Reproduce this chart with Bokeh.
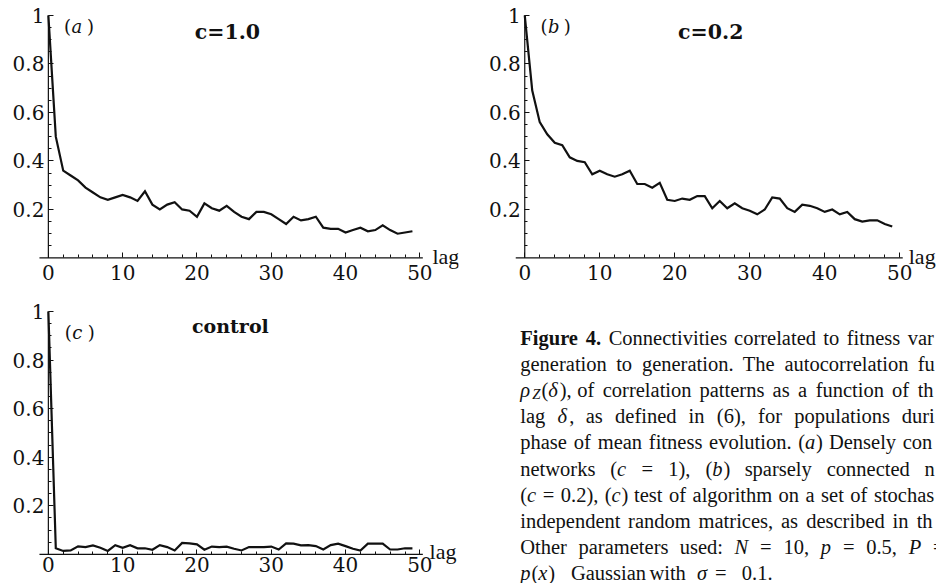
from bokeh.plotting import figure
from bokeh.models import Range1d, FixedTicker, Label, ColumnDataSource, CustomJSTickFormatter
from bokeh.layouts import row, column
from bokeh.embed import file_html
from bokeh.resources import INLINE
from bokeh.core.properties import value

# ---------------- data ----------------
lag = list(range(50))
acf_c10 = [1.0, .50, .36, .34, .32, .29, .27, .25, .24, .25,
           .26, .25, .235, .275, .22, .20, .22, .23, .20, .195,
           .17, .225, .205, .195, .215, .19, .17, .16, .19, .19,
           .18, .16, .14, .17, .155, .16, .17, .125, .12, .12,
           .105, .115, .125, .11, .115, .135, .115, .10, .105, .11]
acf_c02 = [1.0, .69, .56, .51, .475, .465, .415, .40, .395, .345,
           .36, .345, .335, .345, .36, .305, .305, .29, .31, .24,
           .235, .245, .24, .255, .255, .205, .235, .205, .225, .205,
           .195, .18, .20, .25, .245, .205, .19, .22, .215, .205,
           .19, .20, .18, .19, .16, .15, .155, .155, .14, .13]
acf_control = [1.0, .025, .014, .016, .033, .03, .037, .027, .014, .038,
               .027, .038, .025, .025, .019, .038, .03, .016, .047, .045,
               .041, .019, .032, .03, .032, .023, .016, .03, .03, .03,
               .032, .02, .045, .044, .037, .038, .034, .02, .038, .044,
               .034, .023, .016, .044, .044, .044, .02, .02, .025, .025]

panel_titles = ["c=1.0", "c=0.2", "control"]
panel_letters = ["a", "b", "c"]
x_label = "lag"
x_ticks = [0, 10, 20, 30, 40, 50]
x_tick_labels = ["0", "10", "20", "30", "40", "50"]
y_ticks = [0.2, 0.4, 0.6, 0.8, 1.0]
y_tick_labels = ["0.2", "0.4", "0.6", "0.8", "1"]
x_axis_extent = (-1.2, 50.4)   # drawn length of the lag axis
y_axis_extent = (0.0, 1.0)

INK = "#111111"
PLOT_FONT = "DejaVu Serif"
CAP_FONT = "Liberation Serif"
CAP_SIZE = 20.5


def tick_formatter(tv, tl):
    return CustomJSTickFormatter(
        args=dict(tv=tv, tl=tl),
        code="const i = tv.findIndex(t => Math.abs(t - tick) < 1e-9);"
             "return i >= 0 ? tl[i] : '';")


def panel(ys, title, letter, w, h, bl, br, bt, bb, x_end, y_start, x_standoff,
          title_xy, letter_xy, lag_xy, title_size):
    p = figure(width=w, height=h, x_range=Range1d(-5.5, x_end), y_range=Range1d(y_start, 1.045),
               output_backend="svg", toolbar_location=None,
               min_border_left=bl, min_border_right=br,
               min_border_top=bt, min_border_bottom=bb)
    p.outline_line_color = None
    p.grid.visible = False
    p.background_fill_color = "white"
    p.border_fill_color = "white"

    # axis lines crossing at the origin (Mathematica style)
    p.segment(x0=[x_axis_extent[0], 0], y0=[0, y_axis_extent[0]],
              x1=[x_axis_extent[1], 0], y1=[0, y_axis_extent[1]],
              line_color=INK, line_width=1.2)

    p.line(lag, ys, line_width=2.2, line_color=INK, line_join="miter")

    x_minor = [v for v in range(0, 51, 2) if v % 10]
    y_minor = [round(0.05 * k, 2) for k in range(1, 21) if k % 4]
    p.xaxis.ticker = FixedTicker(ticks=x_ticks, minor_ticks=x_minor)
    p.yaxis.ticker = FixedTicker(ticks=y_ticks, minor_ticks=y_minor)
    p.xaxis.formatter = tick_formatter(x_ticks, x_tick_labels)
    p.yaxis.formatter = tick_formatter(y_ticks, y_tick_labels)
    p.xaxis.fixed_location = 0
    p.yaxis.fixed_location = 0
    for ax in (p.xaxis[0], p.yaxis[0]):
        ax.axis_line_color = None
        ax.major_tick_line_color = INK
        ax.minor_tick_line_color = INK
        ax.major_tick_in = 5
        ax.major_tick_out = 0
        ax.minor_tick_in = 3
        ax.minor_tick_out = 0
        ax.major_label_text_font = PLOT_FONT
        ax.major_label_text_font_size = "20px"
        ax.major_label_text_color = INK
    p.yaxis.major_label_standoff = 4
    p.xaxis.major_label_standoff = x_standoff

    p.add_layout(Label(x=title_xy[0], y=title_xy[1], text=title, text_align="center",
                       text_baseline="alphabetic", text_font=PLOT_FONT,
                       text_font_style="bold", text_font_size=title_size, text_color=INK))
    lx, ly = letter_xy
    p.add_layout(Label(x=lx, y=ly, text="(", text_baseline="alphabetic",
                       text_font=PLOT_FONT, text_font_size="18px", text_color=INK))
    p.add_layout(Label(x=lx + 1.0, y=ly, text=letter, text_baseline="alphabetic",
                       text_font=PLOT_FONT, text_font_style="italic",
                       text_font_size="18px", text_color=INK))
    p.add_layout(Label(x=lx + 3.1, y=ly, text=")", text_baseline="alphabetic",
                       text_font=PLOT_FONT, text_font_size="18px", text_color=INK))
    p.add_layout(Label(x=lag_xy[0], y=lag_xy[1], text=x_label, text_baseline="alphabetic",
                       text_font=CAP_FONT, text_font_size="22px", text_color=INK))
    return p


pa = panel(acf_c10, panel_titles[0], panel_letters[0], 480, 291, 3, 22, 4, 2, 55.2, -0.13, 7,
           (24.1, 0.93), (2.1, 0.956), (51.7, 0.008), "20.5px")
pb = panel(acf_c02, panel_titles[1], panel_letters[1], 456, 291, 3, 0, 4, 2, 54.9, -0.13, 7,
           (24.8, 0.93), (2.1, 0.956), (51.2, 0.008), "20.5px")
pc = panel(acf_control, panel_titles[2], panel_letters[2], 480, 292, 7, 18, 9, 0, 55.2, -0.12, 3,
           (24.5, 0.94), (2.2, 0.912), (51.3, 0.012), "19px")

# ---------------- caption (justified, cut at the right edge as in the source page) ----------------
# Times / Liberation Serif advance widths (1/1000 em)
W_R = {' ': 250, 'a': 444, 'b': 500, 'c': 444, 'd': 500, 'e': 444, 'f': 333, 'g': 500, 'h': 500,
       'i': 278, 'j': 278, 'k': 500, 'l': 278, 'm': 778, 'n': 500, 'o': 500, 'p': 500, 'q': 500,
       'r': 333, 's': 389, 't': 278, 'u': 500, 'v': 500, 'w': 722, 'x': 500, 'y': 500, 'z': 444,
       'C': 667, 'D': 722, 'F': 556, 'G': 722, 'N': 722, 'O': 722, 'P': 556, 'T': 611, 'Z': 611,
       '.': 250, ',': 250, ':': 278, '(': 333, ')': 333, '=': 564}
W_R.update({d: 500 for d in "0123456789"})
W_I = {'a': 500, 'b': 500, 'c': 444, 'p': 500, 'x': 444, 'N': 667, 'P': 611, 'Z': 556,
       '\u03c1': 540, '\u03b4': 520, '\u03c3': 560}
W_B = {'F': 611, 'i': 278, 'g': 500, 'u': 556, 'r': 444, 'e': 444, '4': 500, '.': 250}


def pw(text, style):
    table = {"normal": W_R, "italic": W_I, "bold": W_B, "sub": W_I}[style]
    scale = 0.72 if style == "sub" else 1.0
    return sum(table.get(ch, W_R.get(ch, 500)) for ch in text) / 1000.0 * CAP_SIZE * scale


def R(t):
    return [(t, "normal")]


def It(t):
    return [(t, "italic")]


caption_lines = [
    ([[("Figure", "bold")], [("4.", "bold")], R("Connectivities"), R("correlated"), R("to"),
      R("fitness"), R("var")], 907),
    ([R("generation"), R("to"), R("generation."), R("The"), R("autocorrelation"), R("fu")], 917),
    ([[("\u03c1", "italic"), ("Z", "sub"), ("(", "normal"), ("\u03b4", "italic"), ("),", "normal")],
      R("of"), R("correlation"), R("patterns"), R("as"), R("a"), R("function"), R("of"), R("th")], 917),
    ([R("lag"), [("\u03b4", "italic"), (",", "normal")], R("as"), R("defined"), R("in"), R("(6),"),
      R("for"), R("populations"), R("duri")], 901),
    ([R("phase"), R("of"), R("mean"), R("fitness"), R("evolution."),
      [("(", "normal"), ("a", "italic"), (")", "normal")], R("Densely"), R("con")], 902),
    ([R("networks"), [("(", "normal"), ("c", "italic")], R("="), R("1),"),
      [("(", "normal"), ("b", "italic"), (")", "normal")], R("sparsely"), R("connected"), R("n")], 924),
    ([[("(", "normal"), ("c", "italic")], R("="), R("0.2),"),
      [("(", "normal"), ("c", "italic"), (")", "normal")], R("test"), R("of"), R("algorithm"),
      R("on"), R("a"), R("set"), R("of"), R("stochas")], 873),
    ([R("independent"), R("random"), R("matrices,"), R("as"), R("described"), R("in"), R("th")], 916),
    ([R("Other"), R("parameters"), R("used:"), It("N"), R("="), R("10,"), It("p"), R("="),
      R("0.5,"), It("P"), R("=")], None),
    ([[("p", "italic"), ("(", "normal"), ("x", "italic"), (")", "normal")], R("Gaussian"),
      R("with"), It("\u03c3"), R("="), R("0.1.")], [517, 568, 647, 695, 713, 740]),
]
line9_anchor_word = 9      # index of "P" in the 9th line
line9_anchor_x = 908
caption_left = 517
first_baseline = 337.0
line_step = 26.2

cx, cy, ct, cs, cz = [], [], [], [], []
for li, (words, anchor) in enumerate(caption_lines):
    base = first_baseline + li * line_step
    widths = [sum(pw(t, s) for t, s in wd) for wd in words]
    if isinstance(anchor, list):
        starts = anchor
    else:
        if anchor is None:
            k = line9_anchor_word
            ax_ = line9_anchor_x
        else:
            k = len(words) - 1
            ax_ = anchor
        gap = (ax_ - caption_left - sum(widths[:k])) / k
        starts = []
        x = caption_left
        for wdt in widths:
            starts.append(x)
            x += wdt + gap
    for wd, x0 in zip(words, starts):
        x = x0
        for t, s in wd:
            cx.append(x)
            cy.append(base + (4 if s == "sub" else 0))
            ct.append(t)
            cs.append("italic" if s == "sub" else s)
            cz.append("%.1fpx" % (CAP_SIZE * (0.72 if s == "sub" else 1.0)))
            x += pw(t, s) + (1.0 if s in ("italic", "sub") else 0.0)

cap = figure(width=456, height=292, x_range=Range1d(480, 936), y_range=Range1d(583, 291),
             output_backend="svg", toolbar_location=None, min_border=0,
             x_axis_location=None, y_axis_location=None)
cap.grid.visible = False
cap.outline_line_color = None
src = ColumnDataSource(dict(x=cx, y=cy, text=ct, style=cs, size=cz))
cap.text(x="x", y="y", text="text", source=src, text_font=value(CAP_FONT),
         text_font_style="style", text_font_size="size", text_color=INK,
         text_baseline="alphabetic", text_align="left")

layout = row(column(pa, pc), column(pb, cap))
open("out.html", "w").write(file_html(layout, INLINE))
